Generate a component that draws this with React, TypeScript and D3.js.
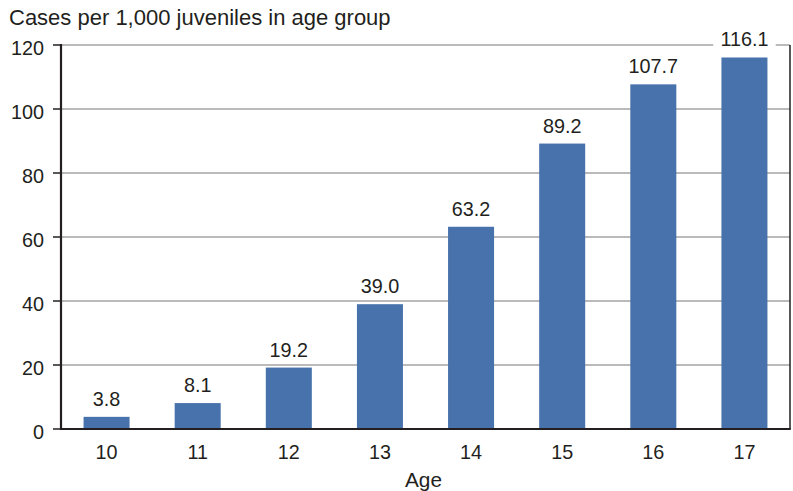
import React from "react";
import * as d3 from "d3";

const ages = ["10", "11", "12", "13", "14", "15", "16", "17"];
const rates = [3.8, 8.1, 19.2, 39.0, 63.2, 89.2, 107.7, 116.1];
const yTicks = [0, 20, 40, 60, 80, 100, 120];

const W = 793;
const H = 491;
const left = 61;
const right = 790;
const top = 45;
const bottom = 429;
const font = "'Liberation Sans', Arial, Helvetica, sans-serif";
const textColor = "#231f20";
const barColor = "#4872ac";
const numSize = 19.8;
const wordSize = 20.8;
const titleSize = 22;

export default function App() {
  const x = d3.scaleBand<string>().domain(ages).range([left, right]).paddingInner(0.495).paddingOuter(0.2475);
  const y = d3.scaleLinear().domain([0, 120]).range([bottom, top]);

  return (
    <svg width={W} height={H} style={{ position: "absolute", left: 0, top: 0 }} fontFamily={font}>
      <rect x={0} y={0} width={W} height={H} fill="#fff" />
      <text x={9} y={25} fontSize={titleSize} fill={textColor}>Cases per 1,000 juveniles in age group</text>
      {yTicks.map((t) => (
        <g key={t}>
          {t > 0 && <line x1={left} x2={right} y1={y(t)} y2={y(t)} stroke="#a3a3a3" strokeWidth={1.5} />}
          <line x1={left - 8} x2={left} y1={y(t)} y2={y(t)} stroke={textColor} strokeWidth={1.5} />
          <text x={44} y={y(t)} dy="0.48em" textAnchor="end" fontSize={numSize} fill={textColor}>{t}</text>
        </g>
      ))}
      {ages.map((a, i) => (
        <rect key={a} x={x(a)} y={y(rates[i])} width={x.bandwidth()} height={bottom - y(rates[i])} fill={barColor} />
      ))}
      {ages.map((a, i) => {
        const cx = (x(a) as number) + x.bandwidth() / 2;
        const label = rates[i].toFixed(1);
        const tw = label.length * 10.5;
        return (
          <g key={"l" + a}>
            <rect x={cx - tw / 2 - 5} y={y(rates[i]) - 30} width={tw + 10} height={22} fill="#fff" />
            <text x={cx} y={y(rates[i]) - 11} textAnchor="middle" fontSize={numSize} fill={textColor}>{label}</text>
          </g>
        );
      })}
      <line x1={right} x2={right} y1={top} y2={bottom} stroke={textColor} strokeWidth={1.5} />
      <line x1={left} x2={left} y1={top - 1} y2={bottom + 1} stroke={textColor} strokeWidth={2.2} />
      <line x1={left} x2={right + 0.75} y1={bottom} y2={bottom} stroke={textColor} strokeWidth={2.2} />
      {ages.map((a) => (
        <text key={"t" + a} x={(x(a) as number) + x.bandwidth() / 2} y={459} textAnchor="middle" fontSize={numSize} fill={textColor}>{a}</text>
      ))}
      <text x={(left + right) / 2 - 2} y={487} textAnchor="middle" fontSize={wordSize} fill={textColor}>Age</text>
    </svg>
  );
}
